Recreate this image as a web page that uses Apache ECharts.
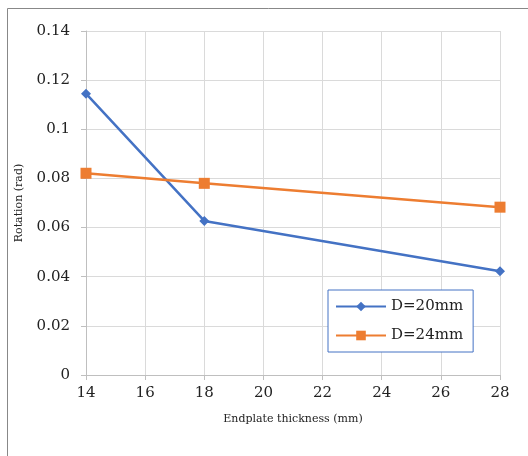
<!DOCTYPE html>
<html><head><meta charset="utf-8">
<script src="https://cdn.jsdelivr.net/npm/echarts@6/dist/echarts.min.js"></script>
<style>html,body{margin:0;padding:0;background:#fff}#c{width:528px;height:456px}</style>
</head><body><div id="c"></div>
<script>
const thickness = [14, 18, 28];
const d20 = [0.1145, 0.0627, 0.0422];
const d24 = [0.0821, 0.0780, 0.0683];
const seriesNames = ['D=20mm', 'D=24mm'];
const xName = 'Endplate thickness (mm)';
const yName = 'Rotation (rad)';

const chart = echarts.init(document.getElementById('c'));
const font = '"DejaVu Serif", "Liberation Serif", serif';
chart.setOption({
  animation: false,
  backgroundColor: '#fff',
  graphic: [{type: 'rect', shape: {x: 7.5, y: 8.5, width: 600, height: 600}, style: {fill: 'none', stroke: '#888', lineWidth: 1}, silent: true}],
  grid: {left: 86, right: 28, top: 31, bottom: 81},
  xAxis: {
    type: 'value', min: 14, max: 28, interval: 2,
    name: xName, nameLocation: 'middle', nameGap: 39,
    nameTextStyle: {fontFamily: font, fontSize: 11, color: '#222'},
    axisLine: {show: true, lineStyle: {color: '#bfbfbf'}},
    axisTick: {show: true, length: 5, lineStyle: {color: '#bfbfbf'}},
    axisLabel: {fontFamily: font, fontSize: 15, color: '#222', margin: 11},
    splitLine: {show: true, lineStyle: {color: '#dadada'}}
  },
  yAxis: {
    type: 'value', min: 0, max: 0.14, interval: 0.02,
    name: yName, nameLocation: 'middle', nameGap: 61, nameRotate: 90,
    nameTextStyle: {fontFamily: font, fontSize: 11, color: '#222'},
    axisLine: {show: true, lineStyle: {color: '#bfbfbf'}},
    axisTick: {show: true, length: 5, lineStyle: {color: '#bfbfbf'}},
    axisLabel: {fontFamily: font, fontSize: 15, color: '#222', margin: 16,
      formatter: v => String(+v.toFixed(2))},
    splitLine: {show: true, lineStyle: {color: '#dadada'}}
  },
  legend: {
    left: 328, top: 290, orient: 'vertical',
    padding: [9, 10, 9, 7], itemGap: 14, itemWidth: 50, itemHeight: 12,
    borderColor: '#4472C4', borderWidth: 1, backgroundColor: '#fff',
    textStyle: {fontFamily: font, fontSize: 15, color: '#222'},
    data: seriesNames
  },
  series: [
    {name: seriesNames[0], type: 'line', data: thickness.map((x, i) => [x, d20[i]]),
     symbol: 'diamond', symbolSize: 10, color: '#4472C4', lineStyle: {width: 2.5}},
    {name: seriesNames[1], type: 'line', data: thickness.map((x, i) => [x, d24[i]]),
     symbol: 'rect', symbolSize: 11, color: '#ED7D31', lineStyle: {width: 2.5}}
  ]
});
</script></body></html>
